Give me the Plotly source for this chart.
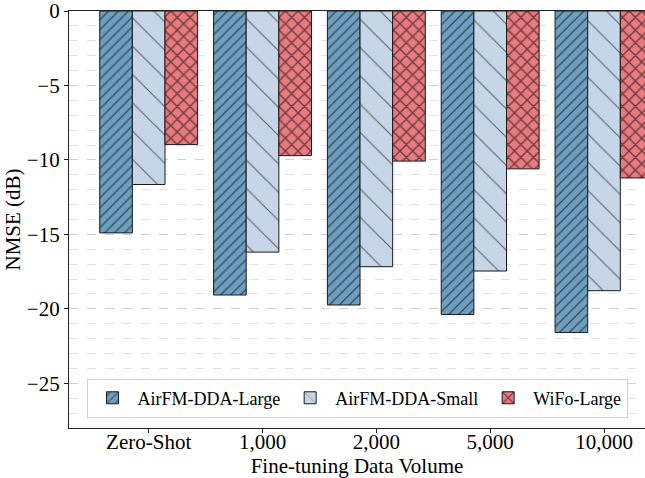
import plotly.graph_objects as go

# Fine-tuning data volumes on the x axis
categories = ["Zero-Shot", "1,000", "2,000", "5,000", "10,000"]

# NMSE (dB) per model
airfm_large = [-14.9, -19.07, -19.74, -20.38, -21.59]
airfm_small = [-11.65, -16.19, -17.17, -17.46, -18.78]
wifo_large = [-8.97, -9.71, -10.08, -10.6, -11.21]

series_names = ["AirFM-DDA-Large", "AirFM-DDA-Small", "WiFo-Large"]
y_tickvals = [0, -5, -10, -15, -20, -25]

FONT = "Liberation Serif"

styles = [
    dict(color="#6f9fc0", shape="/", size=7, solidity=0.2),
    dict(color="#c6d6e6", shape="\\", size=20, solidity=0.06),
    dict(color="#e87b80", shape="x", size=9, solidity=0.3),
]

fig = go.Figure()
for name, vals, st in zip(series_names, [airfm_large, airfm_small, wifo_large], styles):
    fig.add_trace(go.Bar(
        name=name,
        x=categories,
        y=vals,
        marker=dict(
            color=st["color"],
            line=dict(color="#1a1a1a", width=1),
            pattern=dict(shape=st["shape"], size=st["size"], solidity=st["solidity"],
                         fgcolor="#000000", fillmode="overlay"),
        ),
    ))

fig.update_layout(
    width=645, height=478,
    margin=dict(l=69, r=0, t=11, b=50),
    paper_bgcolor="white", plot_bgcolor="white",
    barmode="group", bargap=0.14, bargroupgap=0,
    font=dict(family=FONT, size=20, color="black"),
    legend=dict(
        orientation="h", x=0.5, xanchor="center", y=0.025, yanchor="bottom",
        bgcolor="rgba(255,255,255,0.85)", bordercolor="#d0d0d0", borderwidth=1,
        font=dict(family=FONT, size=18), itemwidth=40,
    ),
    xaxis=dict(
        range=[-0.7, 4.36],
        showline=True, linecolor="#222", linewidth=1.2, mirror=True,
        ticks="outside", ticklen=4, tickcolor="#222",
        ticklabelstandoff=-9,
        tickfont=dict(family=FONT, size=21),
        title=dict(text="Fine-tuning Data Volume", font=dict(family=FONT, size=21), standoff=0),
        showgrid=False,
    ),
    yaxis=dict(
        range=[-28, 0.0001],
        tickvals=y_tickvals,
        ticklabeloverflow="allow",
        showline=True, linecolor="#222", linewidth=1.2,
        ticks="outside", ticklen=4, tickcolor="#222",
        tickfont=dict(family=FONT, size=21),
        title=dict(text="NMSE (dB)", font=dict(family=FONT, size=21), standoff=0),
        showgrid=True, gridcolor="#cfcfcf", griddash="dash", gridwidth=1,
        zeroline=False,
        minor=dict(dtick=1, showgrid=True, gridcolor="#e3e3e3", griddash="dash", gridwidth=1),
    ),
)

fig.write_html("out.html")
